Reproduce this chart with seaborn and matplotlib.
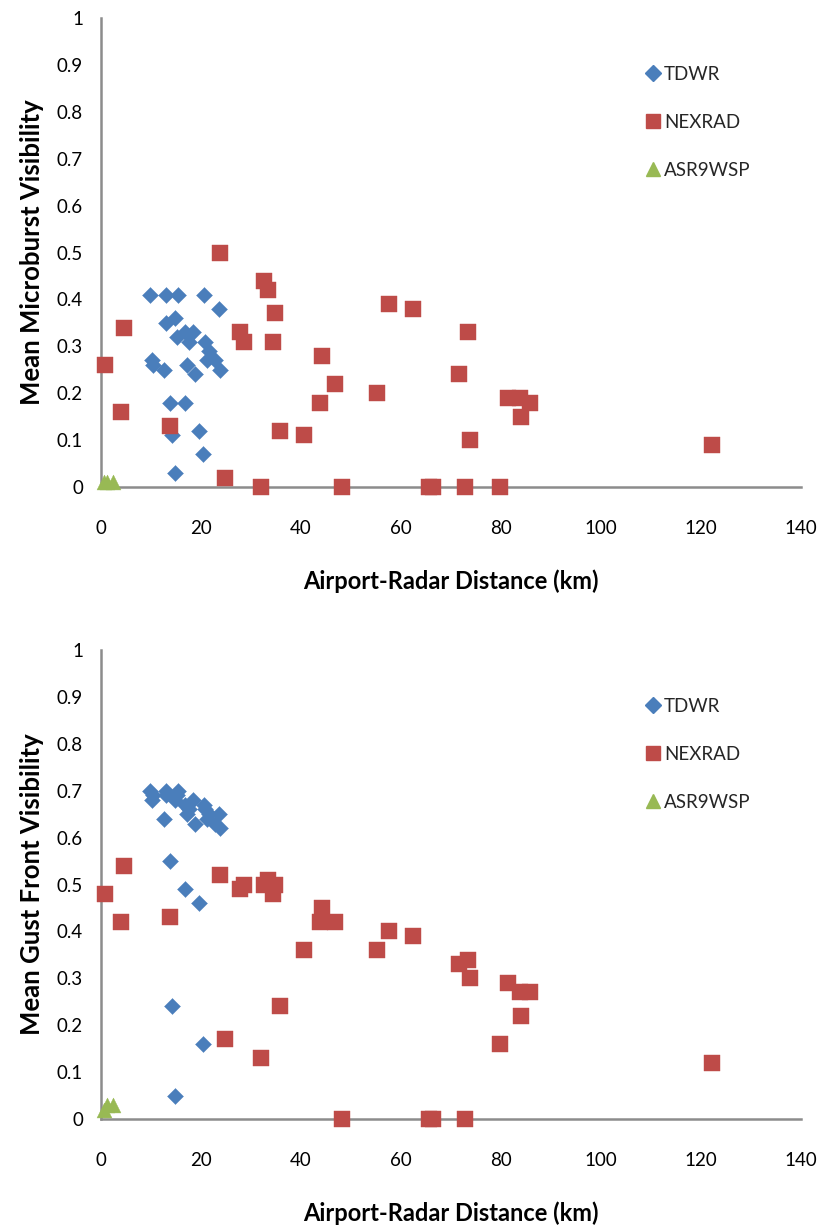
import matplotlib
matplotlib.use("Agg")
import matplotlib.pyplot as plt
import seaborn as sns
import pandas as pd
from matplotlib.lines import Line2D

# ---------------- data ----------------
tdwr_km = [9.8, 10.1, 10.4, 12.5, 12.9, 12.9, 13.8, 14.1, 14.7, 14.8, 15.1, 15.3, 16.7, 16.8,
           17.1, 17.5, 18.3, 18.8, 19.5, 20.3, 20.5, 20.8, 21.1, 21.6, 22.8, 23.5, 23.8]
tdwr_micro = [0.41, 0.27, 0.26, 0.25, 0.41, 0.35, 0.18, 0.11, 0.36, 0.03, 0.32, 0.41, 0.33, 0.18,
              0.26, 0.31, 0.33, 0.24, 0.12, 0.07, 0.41, 0.31, 0.27, 0.29, 0.27, 0.38, 0.25]
tdwr_gust = [0.70, 0.68, 0.69, 0.64, 0.70, 0.69, 0.55, 0.24, 0.68, 0.05, 0.69, 0.70, 0.67, 0.49,
             0.65, 0.66, 0.68, 0.63, 0.46, 0.16, 0.67, 0.66, 0.64, 0.65, 0.63, 0.65, 0.62]

nexrad_km = [0.8, 3.9, 4.6, 13.8, 23.7, 24.8, 27.8, 28.6, 31.9, 32.5, 33.3, 34.3, 34.8, 35.7,
             40.6, 43.7, 44.1, 46.8, 48.1, 55.1, 57.5, 62.3, 65.5, 66.3, 71.6, 72.8, 73.3, 73.7,
             79.8, 81.3, 83.8, 84.0, 85.7, 122.2]
nexrad_micro = [0.26, 0.16, 0.34, 0.13, 0.50, 0.02, 0.33, 0.31, 0.00, 0.44, 0.42, 0.31, 0.37, 0.12,
                0.11, 0.18, 0.28, 0.22, 0.00, 0.20, 0.39, 0.38, 0.00, 0.00, 0.24, 0.00, 0.33, 0.10,
                0.00, 0.19, 0.19, 0.15, 0.18, 0.09]
nexrad_gust = [0.48, 0.42, 0.54, 0.43, 0.52, 0.17, 0.49, 0.50, 0.13, 0.50, 0.51, 0.48, 0.50, 0.24,
               0.36, 0.42, 0.45, 0.42, 0.00, 0.36, 0.40, 0.39, 0.00, 0.00, 0.33, 0.00, 0.34, 0.30,
               0.16, 0.29, 0.27, 0.22, 0.27, 0.12]

asr_km = [0.5, 1.2, 2.3]
asr_micro = [0.01, 0.01, 0.01]
asr_gust = [0.02, 0.03, 0.03]

series_names = ["TDWR", "NEXRAD", "ASR9WSP"]
x_ticks = [0, 20, 40, 60, 80, 100, 120, 140]
y_ticks = [0, 0.1, 0.2, 0.3, 0.4, 0.5, 0.6, 0.7, 0.8, 0.9, 1.0]
y_tick_labels = ["0", "0.1", "0.2", "0.3", "0.4", "0.5", "0.6", "0.7", "0.8", "0.9", "1"]
x_label = "Airport-Radar Distance (km)"
y_labels = ["Mean Microburst Visibility", "Mean Gust Front Visibility"]

# ---------------- style ----------------
sns.set_theme(style="white")
plt.rcParams['font.family'] = ['Lato', 'DejaVu Sans']

BLUE = "#4A7EBB"
RED = "#BE4B48"
GREEN = "#98B954"
GREY = "#8C8C8C"

fig = plt.figure(figsize=(8.22, 12.26), dpi=100)

W, H = 822, 1226
ax_left = 101 / W
ax_w = 700 / W
ax_h = 469 / H
panels = [
    (1 - 487 / H, tdwr_micro, nexrad_micro, asr_micro, y_labels[0]),
    (1 - 1119 / H, tdwr_gust, nexrad_gust, asr_gust, y_labels[1]),
]

for bottom, tdwr_v, nex_v, asr_v, ylab in panels:
    ax = fig.add_axes([ax_left, bottom, ax_w, ax_h])
    df_t = pd.DataFrame({"km": tdwr_km, "v": tdwr_v})
    df_n = pd.DataFrame({"km": nexrad_km, "v": nex_v})
    df_a = pd.DataFrame({"km": asr_km, "v": asr_v})
    sns.scatterplot(data=df_t, x="km", y="v", marker="D", s=66, color=BLUE,
                    edgecolor=BLUE, linewidth=0.3, ax=ax, clip_on=False, zorder=3)
    sns.scatterplot(data=df_n, x="km", y="v", marker="s", s=140, color=RED,
                    edgecolor=RED, linewidth=0.3, ax=ax, clip_on=False, zorder=4)
    sns.scatterplot(data=df_a, x="km", y="v", marker="^", s=115, color=GREEN,
                    edgecolor=GREEN, linewidth=0.3, ax=ax, clip_on=False, zorder=5)

    ax.set_xlim(0, 140)
    ax.set_ylim(0, 1)
    ax.set_xticks(x_ticks)
    ax.set_xticklabels([str(t) for t in x_ticks])
    ax.set_yticks(y_ticks)
    ax.set_yticklabels(y_tick_labels)
    for side in ["top", "right"]:
        ax.spines[side].set_visible(False)
    for side in ["left", "bottom"]:
        ax.spines[side].set_color(GREY)
        ax.spines[side].set_linewidth(1.8)
        ax.spines[side].set_zorder(2)
    ax.tick_params(axis="both", which="both", direction="out", length=4, width=1.2,
                   color=GREY, labelsize=13.5, labelcolor="black")
    ax.tick_params(axis="x", pad=20)
    ax.tick_params(axis="y", pad=9)
    ax.set_facecolor("white")

    ax.set_xlabel(x_label, fontsize=17, fontweight="bold", color="black")
    ax.set_ylabel(ylab, fontsize=18.5, fontweight="bold", color="black")
    ax.xaxis.set_label_coords(0.5, -0.176)
    ax.yaxis.set_label_coords(-0.081, 0.5)

    handles = [
        Line2D([], [], marker="D", ls="", color=BLUE, markersize=8),
        Line2D([], [], marker="s", ls="", color=RED, markersize=10),
        Line2D([], [], marker="^", ls="", color=GREEN, markersize=10),
    ]
    ax.legend(handles, series_names, loc="upper left", bbox_to_anchor=(0.768, 0.914),
              frameon=False, fontsize=13.5, handlelength=0.7, handletextpad=0.25,
              labelspacing=1.65, borderaxespad=0)

fig.savefig("out.png", dpi=100, facecolor="white")
